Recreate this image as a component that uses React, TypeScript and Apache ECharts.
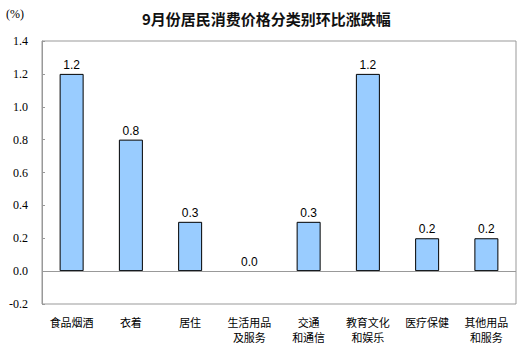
import React, { useEffect, useRef } from "react";
import * as echarts from "echarts";

const categories = [
  "食品烟酒",
  "衣着",
  "居住",
  "生活用品\n及服务",
  "交通\n和通信",
  "教育文化\n和娱乐",
  "医疗保健",
  "其他用品\n和服务",
];
const values = [1.2, 0.8, 0.3, 0.0, 0.3, 1.2, 0.2, 0.2];
const titleText = "9月份居民消费价格分类别环比涨跌幅";
const unitText = "(%)";

export default function App() {
  const ref = useRef<HTMLDivElement>(null);
  useEffect(() => {
    document.body.style.margin = "0";
    const chart = echarts.init(ref.current!, null, { renderer: "svg" });
    chart.setOption({
      animation: false,
      backgroundColor: "#fff",
      title: {
        text: titleText,
        left: 137,
        top: 6,
        textStyle: {
          fontSize: 15,
          fontWeight: "bold",
          color: "#111",
          fontFamily: "Noto Sans CJK SC",
        },
      },
      graphic: [
        {
          type: "text",
          left: 6,
          top: 8,
          style: {
            text: unitText,
            fontSize: 12,
            fontFamily: "Liberation Serif",
            fill: "#000",
          },
        },
      ],
      grid: {
        left: 42,
        top: 41,
        right: 11,
        bottom: 51,
        show: true,
        borderColor: "#999",
        borderWidth: 1,
        containLabel: false,
      },
      xAxis: {
        type: "category",
        data: categories,
        axisLine: { show: false, onZero: false },
        axisTick: { show: false },
        axisLabel: {
          interval: 0,
          margin: 10,
          fontSize: 11,
          lineHeight: 15,
          color: "#000",
          fontFamily: "Noto Sans CJK SC",
        },
      },
      yAxis: {
        type: "value",
        min: -0.2,
        max: 1.4,
        interval: 0.2,
        splitLine: { show: false },
        axisLine: { show: true, lineStyle: { color: "#999" } },
        axisTick: { show: true, inside: true, length: 3, lineStyle: { color: "#999" } },
        axisLabel: {
          margin: 14,
          fontSize: 12,
          color: "#000",
          fontFamily: "Liberation Serif",
          formatter: (v: number) => v.toFixed(1),
        },
      },
      series: [
        {
          type: "bar",
          data: values.map((v) => ({
            value: v,
            itemStyle: v === 0 ? { borderWidth: 0 } : undefined,
          })),
          barWidth: 24,
          itemStyle: { color: "#99CCFF", borderColor: "#000", borderWidth: 1 },
          label: {
            show: true,
            position: "top",
            distance: 3,
            fontSize: 12,
            color: "#000",
            fontFamily: "Liberation Sans",
            formatter: (p: any) => Number(p.value).toFixed(1),
          },
          markLine: {
            silent: true,
            symbol: "none",
            label: { show: false },
            lineStyle: { color: "#999", type: "solid", width: 1 },
            data: [{ yAxis: 0 }],
          },
        },
      ],
    });
    return () => chart.dispose();
  }, []);
  return (
    <div
      ref={ref}
      style={{ position: "absolute", left: 0, top: 0, width: 527, height: 355 }}
    />
  );
}
